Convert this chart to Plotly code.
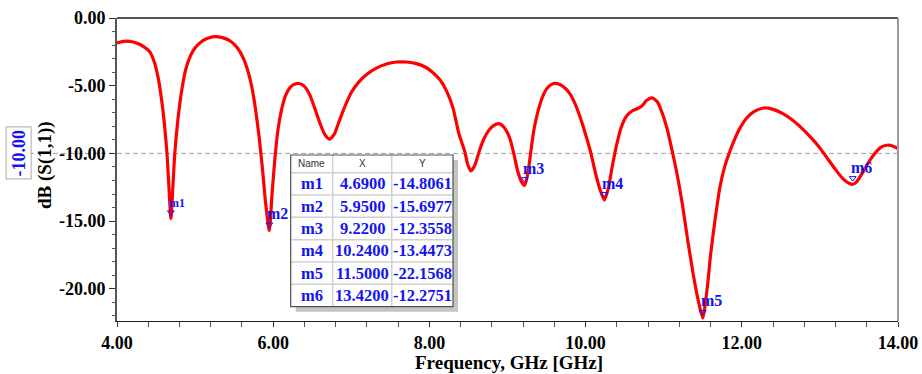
import plotly.graph_objects as go

# ---------------- data ----------------
freq_ghz = [4.00, 4.08, 4.16, 4.25, 4.35, 4.42, 4.48, 4.53, 4.57, 4.61, 4.64, 4.665, 4.69,
            4.715, 4.74, 4.78, 4.83, 4.88, 4.94, 5.00, 5.08, 5.16, 5.25, 5.35, 5.45, 5.54,
            5.62, 5.68, 5.73, 5.78, 5.82, 5.86, 5.90, 5.95, 5.985, 6.02, 6.06, 6.11, 6.16,
            6.22, 6.28, 6.33, 6.40, 6.47, 6.54, 6.60, 6.66, 6.72, 6.78, 6.84, 6.92, 7.00,
            7.10, 7.20, 7.32, 7.45, 7.58, 7.70, 7.82, 7.94, 8.04, 8.14, 8.22, 8.30, 8.38,
            8.45, 8.49, 8.53, 8.58, 8.64, 8.70, 8.76, 8.82, 8.89, 8.96, 9.03, 9.08, 9.13,
            9.18, 9.22, 9.26, 9.30, 9.34, 9.39, 9.45, 9.52, 9.58, 9.64, 9.72, 9.80, 9.87,
            9.94, 10.00, 10.06, 10.12, 10.18, 10.24, 10.29, 10.34, 10.40, 10.46, 10.53,
            10.60, 10.66, 10.72, 10.78, 10.85, 10.92, 10.98, 11.04, 11.10, 11.17, 11.24,
            11.31, 11.38, 11.44, 11.50, 11.56, 11.60, 11.66, 11.72, 11.78, 11.85, 11.92,
            11.98, 12.06, 12.16, 12.28, 12.40, 12.52, 12.64, 12.76, 12.88, 13.00, 13.10,
            13.20, 13.30, 13.38, 13.42, 13.47, 13.55, 13.63, 13.71, 13.78, 13.86, 13.93, 14.00]
s11_db = [-1.85, -1.72, -1.72, -1.85, -2.15, -2.5, -3.3, -4.5, -6.0, -8.0, -10.0, -12.5, -14.81,
          -12.5, -10.0, -7.5, -5.3, -3.8, -2.8, -2.2, -1.75, -1.5, -1.37, -1.45, -1.7, -2.2,
          -3.0, -4.0, -5.2, -7.0, -8.8, -11.0, -13.5, -15.70, -13.0, -10.5, -8.3, -6.7, -5.7,
          -5.1, -4.88, -4.84, -5.05, -5.7, -6.8, -7.8, -8.6, -8.95, -8.6, -7.7, -6.5, -5.5,
          -4.7, -4.15, -3.7, -3.4, -3.25, -3.25, -3.35, -3.6, -4.0, -4.6, -5.4, -6.6, -8.6,
          -9.8, -10.8, -11.3, -10.9, -9.8, -8.9, -8.3, -7.95, -7.8, -8.1, -8.9, -10.0, -11.3,
          -12.1, -12.36, -11.5, -9.8, -8.2, -6.9, -5.8, -5.1, -4.85, -4.85, -5.1, -5.6, -6.4,
          -7.5, -8.6, -9.8, -11.3, -12.6, -13.45, -12.6, -11.0, -9.3, -8.0, -7.2,
          -6.85, -6.7, -6.5, -6.1, -5.9, -6.2, -7.0, -8.1, -9.6, -11.5, -13.8,
          -16.5, -19.0, -20.8, -22.16, -19.8, -17.5, -14.8, -12.5, -11.0, -9.8, -8.8,
          -8.1, -7.4, -6.9, -6.65, -6.75, -7.05, -7.5, -8.1, -8.8, -9.6, -10.4,
          -11.2, -11.9, -12.23, -12.28, -12.1, -11.4, -10.6, -9.95, -9.55, -9.4, -9.45, -9.65]

marker_names = ["m1", "m2", "m3", "m4", "m5", "m6"]
marker_x = [4.69, 5.95, 9.22, 10.24, 11.50, 13.42]
marker_y = [-14.8061, -15.6977, -12.3558, -13.4473, -22.1568, -12.2751]

x_tickvals = [4, 6, 8, 10, 12, 14]
x_ticktext = ["4.00", "6.00", "8.00", "10.00", "12.00", "14.00"]
y_tickvals = [0, -5, -10, -15, -20]
y_ticktext = ["0.00", "-5.00", "-10.00", "-15.00", "-20.00"]
ref_level = -10.0
table_header = ["Name", "X", "Y"]

# ---------------- layout helpers ----------------
W, H = 922, 374
ML, MR, MT, MB = 117, 24, 18, 53
PW, PH = W - ML - MR, H - MT - MB


def px(p):
    return (p - ML) / PW


def py(p):
    return (H - MB - p) / PH


SERIF = "Liberation Serif, Times New Roman, serif"
BLUE = "#1414f0"

fig = go.Figure()
fig.add_trace(go.Scatter(x=freq_ghz, y=s11_db, mode="lines",
                         line=dict(color="#ff0000", width=3.2, shape="spline", smoothing=0.6),
                         hoverinfo="skip", showlegend=False))
# marker symbols just above the dips
fig.add_trace(go.Scatter(x=marker_x, y=[v + 0.45 for v in marker_y], mode="markers",
                         marker=dict(symbol="triangle-down-open", size=6,
                                     color=BLUE, line=dict(width=1, color=BLUE)),
                         showlegend=False, hoverinfo="skip"))

annotations = []
shapes = []
# marker labels
for i, (n, xv, yv) in enumerate(zip(marker_names, marker_x, marker_y)):
    annotations.append(dict(x=xv, y=yv, xref="x", yref="y", text=n, showarrow=False,
                            xanchor="left", yanchor="middle", xshift=-4,
                            yshift=15 if i == 0 else 17,
                            font=dict(family=SERIF, size=12 if i == 0 else 16,
                                      color=BLUE, weight="bold")))

# reference line and its label box
shapes.append(dict(type="line", xref="paper", yref="y", x0=px(29), x1=1, y0=ref_level,
                   y1=ref_level, line=dict(color="#a0a0a0", width=1, dash="5px,3px"),
                   layer="below"))
annotations.append(dict(x=px(19), y=ref_level, xref="paper", yref="y",
                        xanchor="center", yanchor="middle",
                        text=y_ticktext[y_tickvals.index(ref_level)], textangle=-90,
                        showarrow=False, bordercolor="#aaaaaa", borderwidth=1, borderpad=2,
                        bgcolor="white",
                        font=dict(family=SERIF, size=18, color=BLUE, weight="bold")))

# frame lines (top and right)
shapes.append(dict(type="line", xref="paper", yref="paper", x0=0, x1=1, y0=1, y1=1,
                   line=dict(color="#555555", width=2)))
shapes.append(dict(type="line", xref="paper", yref="paper", x0=1, x1=1, y0=0, y1=1,
                   line=dict(color="#9a9a9a", width=2)))

# marker table
tx0, tx1, ty0, ty1 = 290.7, 453, 155, 306.7
col_edges = [tx0, 332.7, 391.7, tx1]
header_bottom = 172.7
row_h = (ty1 - header_bottom) / len(marker_names)
shapes.append(dict(type="rect", xref="paper", yref="paper", x0=px(tx0 + 5), x1=px(tx1 + 5),
                   y0=py(ty1 + 5), y1=py(ty0 + 5), fillcolor="#c4c4c4", line=dict(width=0),
                   layer="above"))
shapes.append(dict(type="rect", xref="paper", yref="paper", x0=px(tx0), x1=px(tx1),
                   y0=py(ty1), y1=py(ty0), fillcolor="white", line=dict(width=0),
                   layer="above"))
for c in col_edges[1:-1]:
    shapes.append(dict(type="line", xref="paper", yref="paper", x0=px(c), x1=px(c),
                       y0=py(ty1), y1=py(ty0), line=dict(color="#d0d0d0", width=1.5),
                       layer="above"))
row_edges = [header_bottom + k * row_h for k in range(len(marker_names))]
for r in row_edges:
    shapes.append(dict(type="line", xref="paper", yref="paper", x0=px(tx0), x1=px(tx1),
                       y0=py(r), y1=py(r), line=dict(color="#d0d0d0", width=1.5),
                       layer="above"))
shapes.append(dict(type="rect", xref="paper", yref="paper", x0=px(tx0), x1=px(tx1),
                   y0=py(ty1), y1=py(ty0), line=dict(color="#505050", width=1.2),
                   layer="above"))
centers = [(col_edges[k] + col_edges[k + 1]) / 2 for k in range(3)]
for k, h in enumerate(table_header):
    annotations.append(dict(x=px(centers[k]), y=py((ty0 + header_bottom) / 2), xref="paper",
                            yref="paper", text=h, showarrow=False,
                            xanchor="center", yanchor="middle",
                            font=dict(family="Liberation Sans, Arial, sans-serif", size=10,
                                      color="#333333")))
for i, (n, xv, yv) in enumerate(zip(marker_names, marker_x, marker_y)):
    yc = py(header_bottom + (i + 0.5) * row_h)
    for k, t in enumerate([n, f"{xv:.4f}", f"{yv:.4f}"]):
        annotations.append(dict(x=px(centers[k]), y=yc, xref="paper", yref="paper", text=t,
                                showarrow=False, xanchor="center", yanchor="middle",
                                font=dict(family=SERIF, size=16.5, color=BLUE,
                                          weight="bold")))

# axis titles
annotations.append(dict(x=px(45), y=py(165), xref="paper", yref="paper", text="dB (S(1,1))",
                        textangle=-90, showarrow=False, xanchor="center", yanchor="middle",
                        font=dict(family=SERIF, size=19, color="black", weight="bold")))
annotations.append(dict(x=px(509), y=py(362), xref="paper", yref="paper",
                        text="Frequency, GHz [GHz]", showarrow=False,
                        xanchor="center", yanchor="middle",
                        font=dict(family=SERIF, size=19, color="black", weight="bold")))

fig.update_layout(
    width=W, height=H, margin=dict(l=ML, r=MR, t=MT, b=MB, autoexpand=False),
    paper_bgcolor="white", plot_bgcolor="white", showlegend=False,
    annotations=annotations, shapes=shapes,
    xaxis=dict(range=[4, 14], tickmode="array", tickvals=x_tickvals, ticktext=x_ticktext,
               automargin=False,
               showgrid=False, zeroline=False, showline=True, linecolor="#222222",
               linewidth=1, ticks="outside", ticklen=5, tickcolor="#333333",
               tickfont=dict(family=SERIF, size=18, color="black", weight="bold"),
               minor=dict(tickmode="linear", tick0=4, dtick=0.4, ticks="outside", ticklen=5,
                          tickcolor="#555555", showgrid=False)),
    yaxis=dict(range=[-22.38, 0], tickmode="array", tickvals=y_tickvals, ticktext=y_ticktext,
               automargin=False,
               showgrid=False, zeroline=False, showline=True, linecolor="#555555",
               linewidth=2, ticks="outside", ticklen=6, tickcolor="#333333",
               tickfont=dict(family=SERIF, size=18, color="black", weight="bold"),
               minor=dict(tickmode="linear", tick0=0, dtick=1, ticks="outside", ticklen=3,
                          tickcolor="#555555", showgrid=False)),
)

fig.write_html("out.html")
